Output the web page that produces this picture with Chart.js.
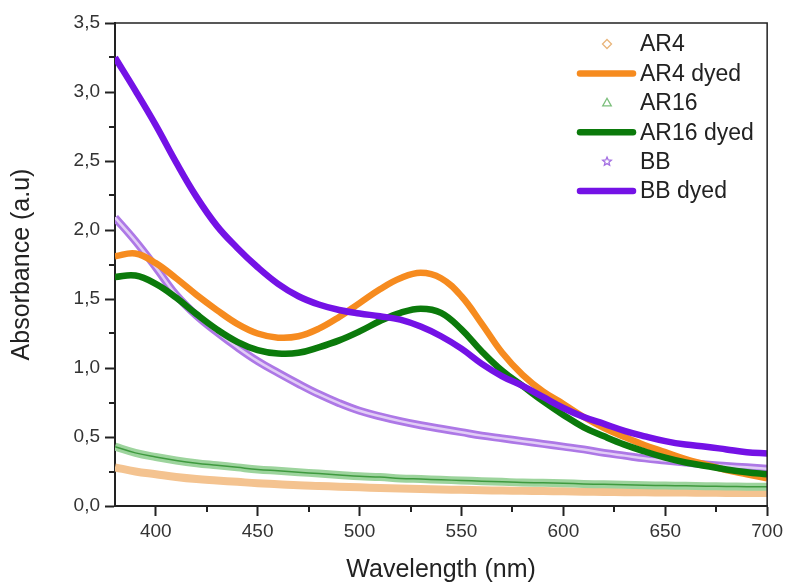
<!DOCTYPE html>
<html>
<head>
<meta charset="utf-8">
<title>Absorbance spectra</title>
<script src="https://cdn.jsdelivr.net/npm/chart.js@4"></script>
<style>
  body { margin: 0; background: #fff; }
  canvas { display: block; }
</style>
</head>
<body>
<canvas id="absChart" width="787" height="586"></canvas>
<script>
// Wavelength grid (nm) and absorbance
const wavelength = [380, 390, 400, 410, 420, 430, 440, 450, 460, 470, 480, 490, 500, 510, 520, 530, 540,
  550, 560, 570, 580, 590, 600, 610, 620, 630, 640, 650, 660, 670, 680, 690, 700];

const ar4 = [0.28, 0.25, 0.23, 0.21, 0.195, 0.185, 0.175, 0.165, 0.158, 0.15, 0.145, 0.14, 0.135, 0.13, 0.127, 0.123, 0.12,
  0.117, 0.114, 0.112, 0.11, 0.108, 0.106, 0.104, 0.102, 0.1, 0.099, 0.098, 0.097, 0.096, 0.095, 0.095, 0.095];
const ar4Dyed = [1.81, 1.83, 1.76, 1.65, 1.53, 1.42, 1.32, 1.25, 1.22, 1.23, 1.285, 1.37, 1.47, 1.57, 1.65, 1.69, 1.65,
  1.52, 1.32, 1.11, 0.95, 0.83, 0.74, 0.645, 0.565, 0.50, 0.44, 0.39, 0.34, 0.30, 0.26, 0.23, 0.20];
const ar16 = [0.43, 0.385, 0.355, 0.33, 0.31, 0.295, 0.28, 0.265, 0.255, 0.245, 0.235, 0.225, 0.215, 0.21, 0.2, 0.195, 0.19,
  0.185, 0.18, 0.175, 0.17, 0.168, 0.165, 0.16, 0.157, 0.154, 0.15, 0.148, 0.146, 0.144, 0.142, 0.14, 0.14];
const ar16Dyed = [1.66, 1.67, 1.61, 1.51, 1.39, 1.28, 1.19, 1.13, 1.105, 1.11, 1.15, 1.2, 1.265, 1.34, 1.4, 1.43, 1.4,
  1.28, 1.12, 0.98, 0.87, 0.76, 0.66, 0.57, 0.505, 0.445, 0.395, 0.35, 0.315, 0.29, 0.265, 0.245, 0.23];
const bb = [2.09, 1.92, 1.73, 1.53, 1.38, 1.26, 1.15, 1.05, 0.965, 0.885, 0.81, 0.745, 0.69, 0.65, 0.615, 0.585, 0.56,
  0.535, 0.51, 0.49, 0.47, 0.45, 0.43, 0.41, 0.385, 0.365, 0.345, 0.33, 0.315, 0.3, 0.29, 0.28, 0.27];
const bbDyed = [3.25, 3.01, 2.76, 2.49, 2.24, 2.03, 1.87, 1.73, 1.61, 1.52, 1.46, 1.42, 1.395, 1.375, 1.35, 1.3, 1.23,
  1.14, 1.03, 0.94, 0.87, 0.79, 0.71, 0.645, 0.595, 0.545, 0.505, 0.47, 0.445, 0.43, 0.41, 0.39, 0.38];

const xMajor = [400, 450, 500, 550, 600, 650, 700];
const xMinor = [425, 475, 525, 575, 625, 675];
const yMajor = [0, 0.5, 1, 1.5, 2, 2.5, 3, 3.5];
const yMinor = [0.25, 0.75, 1.25, 1.75, 2.25, 2.75, 3.25];

const FONT = "'Liberation Sans', Arial, sans-serif";
const AXIS = "#222";

const toPoints = arr => wavelength.map((x, i) => ({ x, y: arr[i] }));

function lineSet(data, color, width, order) {
  return {
    data: toPoints(data),
    borderColor: color,
    borderWidth: width,
    pointRadius: 0,
    fill: false,
    tension: 0.4,
    order
  };
}

// Legend entries: marker series get a hollow symbol, dyed series a thick line
const legendItems = [
  { text: "AR4", marker: "diamond", color: "#e9b57a" },
  { text: "AR4 dyed", line: "#f68b1f" },
  { text: "AR16", marker: "triangle", color: "#7cbf7c" },
  { text: "AR16 dyed", line: "#0b7a0b" },
  { text: "BB", marker: "star", color: "#a470e2" },
  { text: "BB dyed", line: "#7412e6" }
];

function drawMarker(ctx, type, cx, cy, r) {
  ctx.beginPath();
  if (type === "diamond") {
    ctx.moveTo(cx, cy - r); ctx.lineTo(cx + r, cy); ctx.lineTo(cx, cy + r); ctx.lineTo(cx - r, cy);
  } else if (type === "triangle") {
    ctx.moveTo(cx, cy - r); ctx.lineTo(cx + r * 0.95, cy + r * 0.7); ctx.lineTo(cx - r * 0.95, cy + r * 0.7);
  } else {
    for (let k = 0; k < 10; k++) {
      const rr = k % 2 === 0 ? r : r * 0.45;
      const a = -Math.PI / 2 + k * Math.PI / 5;
      const px = cx + rr * Math.cos(a), py = cy + rr * Math.sin(a);
      k === 0 ? ctx.moveTo(px, py) : ctx.lineTo(px, py);
    }
  }
  ctx.closePath();
  ctx.stroke();
}

const framePlugin = {
  id: "frame",
  afterDraw(chart) {
    const { ctx, chartArea: a, scales } = chart;
    ctx.save();
    ctx.strokeStyle = AXIS;
    ctx.lineWidth = 1.5;
    ctx.beginPath();
    ctx.moveTo(a.left, a.top); ctx.lineTo(a.right, a.top); ctx.lineTo(a.right, a.bottom);
    ctx.stroke();

    // minor ticks
    ctx.lineWidth = 2;
    ctx.beginPath();
    xMinor.forEach(v => {
      const px = Math.round(scales.x.getPixelForValue(v));
      ctx.moveTo(px, a.bottom); ctx.lineTo(px, a.bottom + 6);
    });
    yMinor.forEach(v => {
      const py = Math.round(scales.y.getPixelForValue(v));
      ctx.moveTo(a.left, py); ctx.lineTo(a.left - 6, py);
    });
    ctx.stroke();

    // legend
    ctx.font = "23px " + FONT;
    ctx.textBaseline = "middle";
    ctx.fillStyle = "#222";
    legendItems.forEach((it, i) => {
      const cy = 44 + i * 29.4;
      if (it.line) {
        ctx.strokeStyle = it.line;
        ctx.lineWidth = 6.5;
        ctx.lineCap = "round";
        ctx.beginPath();
        ctx.moveTo(580, cy); ctx.lineTo(633, cy);
        ctx.stroke();
      } else {
        ctx.strokeStyle = it.color;
        ctx.lineWidth = 1.3;
        drawMarker(ctx, it.marker, 607, cy, 4.5);
      }
      ctx.fillText(it.text, 640, cy + 1);
    });
    ctx.restore();
  }
};

new Chart(document.getElementById("absChart"), {
  type: "line",
  data: {
    datasets: [
      lineSet(bbDyed, "#7412e6", 6.5, 1),
      lineSet(ar16Dyed, "#0b7a0b", 6.5, 2),
      lineSet(ar4Dyed, "#f68b1f", 6.5, 3),
      lineSet(bb, "#e2cdf6", 2.5, 4),
      lineSet(bb, "#ad78e6", 8, 5),
      lineSet(ar16, "#3f9a3f", 1.5, 6),
      lineSet(ar16, "#9dd49d", 8, 7),
      lineSet(ar4, "#f4c390", 8, 8)
    ]
  },
  options: {
    responsive: false,
    animation: false,
    layout: { padding: { left: 0, top: 23, right: 19, bottom: 0 } },
    plugins: { legend: { display: false }, tooltip: { enabled: false } },
    scales: {
      x: {
        type: "linear",
        min: 380,
        max: 700,
        afterBuildTicks: s => { s.ticks = xMajor.map(v => ({ value: v })); },
        afterFit: s => { s.height = 80; },
        grid: { drawOnChartArea: false, tickLength: 10, tickWidth: 2, tickColor: AXIS },
        border: { color: AXIS, width: 2 },
        ticks: { font: { family: FONT, size: 19 }, color: "#333", padding: 4, maxRotation: 0 },
        title: { display: true, text: "Wavelength (nm)", font: { family: FONT, size: 25 }, color: "#222",
          padding: { top: 0, bottom: 1 } }
      },
      y: {
        type: "linear",
        min: 0,
        max: 3.5,
        afterBuildTicks: s => { s.ticks = yMajor.map(v => ({ value: v })); },
        afterFit: s => { s.width = 115; },
        grid: { drawOnChartArea: false, tickLength: 10, tickWidth: 2, tickColor: AXIS },
        border: { color: AXIS, width: 2 },
        ticks: { font: { family: FONT, size: 19 }, color: "#333", padding: 5,
          callback: v => v.toFixed(1).replace(".", ",") },
        title: { display: true, text: "Absorbance (a.u)", font: { family: FONT, size: 25 }, color: "#222",
          padding: { top: 7, bottom: 0 } }
      }
    }
  },
  plugins: [framePlugin]
});
</script>
</body>
</html>
